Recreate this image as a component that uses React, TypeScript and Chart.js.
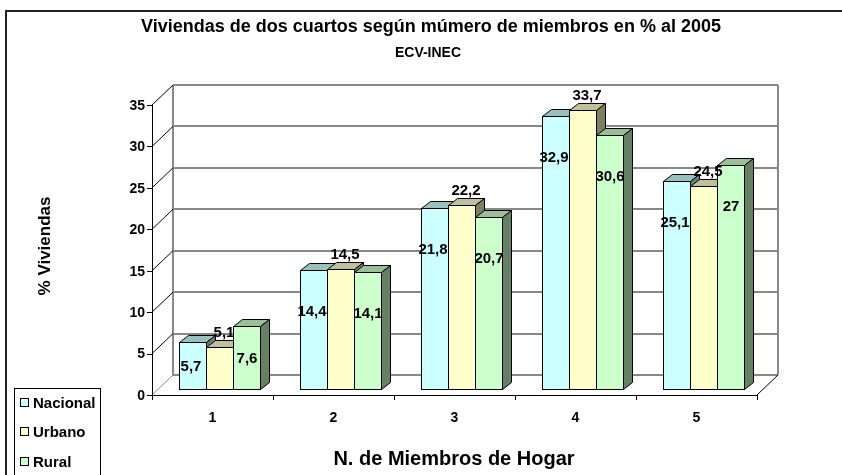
import React, { useEffect, useRef } from 'react';
import { Chart, registerables } from 'chart.js';

Chart.register(...registerables);

const categories = ['1', '2', '3', '4', '5'];
const nacional = [5.7, 14.4, 21.8, 32.9, 25.1];
const urbano = [5.1, 14.5, 22.2, 33.7, 24.5];
const rural = [7.6, 14.1, 20.7, 30.6, 27];
const yTicks = [0, 5, 10, 15, 20, 25, 30, 35];
const seriesNames = ['Nacional', 'Urbano', 'Rural'];
const titleText = 'Viviendas de dos cuartos según múmero de miembros en % al 2005';
const subtitleText = 'ECV-INEC';
const yTitle = '% Viviendas';
const xTitle = 'N. de Miembros de Hogar';

const FONT = '"Liberation Sans", Arial, sans-serif';
const fronts = ['#CCFFFF', '#FFFFCC', '#CCFFCC'];
const tops = ['#99BFBF', '#BFBF99', '#99BF99'];
const sides = ['#668080', '#80805F', '#668066'];

const DX = 21, DY = -20; // wall depth
const OX = 7, OY = -6; // bar position in depth
const BDX = 9, BDY = -7; // bar depth

const fmt = (v: number) => String(v).replace('.', ',');

const threeD = {
  id: 'threeD',
  beforeDatasetsDraw(chart: any) {
    const { ctx, chartArea: a, scales } = chart;
    const y = scales.y;
    const x = scales.x;
    ctx.save();
    const y0 = y.getPixelForValue(yTicks[0]);
    const yTop = y.getPixelForValue(yTicks[yTicks.length - 1]);
    ctx.strokeStyle = '#888888';
    ctx.lineWidth = 2;
    for (const t of yTicks) {
      const py = Math.round(y.getPixelForValue(t) + DY);
      ctx.beginPath();
      ctx.moveTo(a.left + DX, py);
      ctx.lineTo(a.right + DX, py);
      ctx.stroke();
    }
    ctx.beginPath();
    ctx.moveTo(a.left + DX, y0 + DY);
    ctx.lineTo(a.left + DX, yTop + DY);
    ctx.moveTo(a.right + DX, y0 + DY);
    ctx.lineTo(a.right + DX, yTop + DY);
    ctx.stroke();
    ctx.lineWidth = 1;
    ctx.strokeStyle = '#888888';
    ctx.beginPath();
    ctx.moveTo(a.left, y0);
    ctx.lineTo(a.left + DX, y0 + DY);
    ctx.stroke();
    ctx.strokeStyle = '#000000';
    for (const t of yTicks) {
      if (t === 0) continue;
      const py = y.getPixelForValue(t);
      ctx.beginPath();
      ctx.moveTo(a.left, py);
      ctx.lineTo(a.left + DX, py + DY);
      ctx.stroke();
    }
    ctx.beginPath();
    ctx.moveTo(a.right, y0);
    ctx.lineTo(a.right + DX, y0 + DY);
    ctx.stroke();
    ctx.beginPath();
    ctx.moveTo(Math.round(a.left) + 0.5, yTop);
    ctx.lineTo(Math.round(a.left) + 0.5, y0);
    ctx.moveTo(a.left, Math.round(y0) + 0.5);
    ctx.lineTo(a.right, Math.round(y0) + 0.5);
    ctx.stroke();
    ctx.beginPath();
    for (const t of yTicks) {
      const py = Math.round(y.getPixelForValue(t)) + 0.5;
      ctx.moveTo(a.left - 5, py);
      ctx.lineTo(a.left, py);
    }
    const step = (a.right - a.left) / categories.length;
    for (let i = 0; i <= categories.length; i++) {
      const px = Math.round(a.left + step * i) + 0.5;
      ctx.moveTo(px, y0);
      ctx.lineTo(px, y0 + 5);
    }
    ctx.stroke();
    ctx.fillStyle = '#000';
    ctx.font = `bold 14px ${FONT}`;
    ctx.textAlign = 'right';
    ctx.textBaseline = 'middle';
    for (const t of yTicks) {
      ctx.fillText(String(t), a.left - 7, y.getPixelForValue(t) + 1);
    }
    ctx.textAlign = 'center';
    categories.forEach((c, i) => {
      ctx.fillText(c, x.getPixelForValue(i), 418);
    });
    ctx.restore();
  },
  afterDatasetsDraw(chart: any) {
    const { ctx } = chart;
    ctx.save();
    ctx.lineWidth = 1;
    ctx.strokeStyle = '#000';
    const labels: { t: string; x: number; y: number }[] = [];
    for (let d = 0; d < 3; d++) {
      const meta = chart.getDatasetMeta(d);
      const vals = chart.data.datasets[d].data as number[];
      meta.data.forEach((el: any, i: number) => {
        const p = el.getProps(['x', 'y', 'base', 'width'], true);
        const left = Math.round(p.x - p.width / 2 + OX) + 0.5;
        const right = Math.round(p.x + p.width / 2 + OX) + 0.5;
        const top = Math.round(p.y + OY) + 0.5;
        const bottom = Math.round(p.base + OY) + 0.5;
        ctx.fillStyle = fronts[d];
        ctx.fillRect(left, top, right - left, bottom - top);
        ctx.strokeRect(left, top, right - left, bottom - top);
        ctx.fillStyle = tops[d];
        ctx.beginPath();
        ctx.moveTo(left, top);
        ctx.lineTo(left + BDX, top + BDY);
        ctx.lineTo(right + BDX, top + BDY);
        ctx.lineTo(right, top);
        ctx.closePath();
        ctx.fill();
        ctx.stroke();
        ctx.fillStyle = sides[d];
        ctx.beginPath();
        ctx.moveTo(right, top);
        ctx.lineTo(right + BDX, top + BDY);
        ctx.lineTo(right + BDX, bottom + BDY);
        ctx.lineTo(right, bottom);
        ctx.closePath();
        ctx.fill();
        ctx.stroke();
        const cx = (left + right) / 2;
        const h = bottom - top;
        let lx = cx, ly = top;
        if (d === 0) { lx = cx - 2; ly = top + Math.min(40, h / 2); }
        else if (d === 1) { lx = cx + 4; ly = top - 16; }
        else { lx = cx; ly = top + Math.min(40, h / 2); }
        labels.push({ t: fmt(vals[i]), x: lx, y: ly });
      });
    }
    ctx.fillStyle = '#000';
    ctx.font = `bold 15px ${FONT}`;
    ctx.textAlign = 'center';
    ctx.textBaseline = 'middle';
    for (const l of labels) ctx.fillText(l.t, l.x, l.y + 1);
    ctx.restore();
  },
  afterDraw(chart: any) {
    const { ctx } = chart;
    ctx.save();
    ctx.fillStyle = '#000';
    ctx.textAlign = 'center';
    ctx.textBaseline = 'middle';
    ctx.font = `bold 18px ${FONT}`;
    ctx.fillText(titleText, 431, 27);
    ctx.font = `bold 14px ${FONT}`;
    ctx.fillText(subtitleText, 428, 53);
    ctx.font = `bold 20px ${FONT}`;
    ctx.fillText(xTitle, 454, 459);
    ctx.save();
    ctx.translate(45, 246);
    ctx.rotate(-Math.PI / 2);
    ctx.font = `bold 17px ${FONT}`;
    ctx.fillText(yTitle, 0, 0);
    ctx.restore();
    ctx.strokeStyle = '#000';
    ctx.lineWidth = 1;
    ctx.strokeRect(14.5, 388.5, 86, 100);
    const ly = [403, 432, 462];
    ctx.font = `bold 15px ${FONT}`;
    ctx.textAlign = 'left';
    seriesNames.forEach((n, i) => {
      ctx.fillStyle = fronts[i];
      ctx.fillRect(20.5, ly[i] - 4.5, 8, 8);
      ctx.strokeRect(20.5, ly[i] - 4.5, 8, 8);
      ctx.fillStyle = '#000';
      ctx.fillText(n, 33, ly[i] + 1);
    });
    ctx.strokeStyle = '#222';
    ctx.lineWidth = 2;
    ctx.strokeRect(6, 11, 900, 500);
    ctx.restore();
  },
};

export default function App() {
  const ref = useRef<HTMLCanvasElement>(null);
  useEffect(() => {
    if (!ref.current) return;
    const chart = new Chart(ref.current, {
      type: 'bar',
      data: {
        labels: categories,
        datasets: [
          { label: seriesNames[0], data: nacional, backgroundColor: 'rgba(0,0,0,0)', borderWidth: 0 },
          { label: seriesNames[1], data: urbano, backgroundColor: 'rgba(0,0,0,0)', borderWidth: 0 },
          { label: seriesNames[2], data: rural, backgroundColor: 'rgba(0,0,0,0)', borderWidth: 0 },
        ],
      },
      options: {
        responsive: false,
        animation: false,
        layout: { padding: { left: 152, right: 85, top: 105, bottom: 80 } },
        scales: {
          x: { display: false, offset: true },
          y: { display: false, min: 0, max: 35 },
        },
        datasets: { bar: { categoryPercentage: 0.67, barPercentage: 1 } },
        plugins: { legend: { display: false }, tooltip: { enabled: false }, title: { display: false } },
      },
      plugins: [threeD],
    });
    return () => chart.destroy();
  }, []);
  return (
    <div style={{ position: 'fixed', left: 0, top: 0, width: 842, height: 475, background: '#fff' }}>
      <canvas ref={ref} width={842} height={475} style={{ width: 842, height: 475, display: 'block' }} />
    </div>
  );
}
